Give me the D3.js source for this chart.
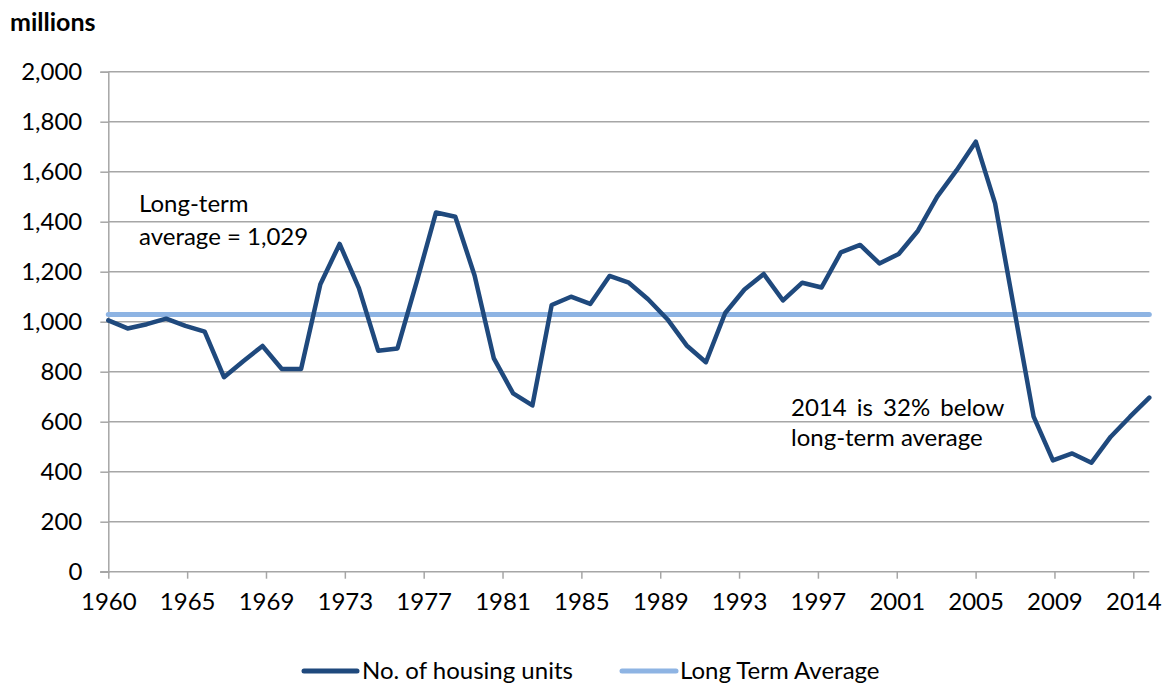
<!DOCTYPE html>
<html>
<head>
<meta charset="utf-8">
<script src="https://cdn.jsdelivr.net/npm/d3@7"></script>
<style>
  html, body { margin: 0; padding: 0; background: #fff; }
  svg { display: block; }
  text { font-family: Lato, "Open Sans", sans-serif; fill: #000; }
</style>
</head>
<body>
<svg id="chart" width="1168" height="684"></svg>
<script>
// ---- data ----
const years = d3.range(1960, 2015);
const housingUnits = [
  1005, 973, 990, 1012, 983, 960, 778, 842, 903, 811,
  811, 1150, 1311, 1134, 884, 893, 1160, 1437, 1420, 1185,
  853, 713, 665, 1067, 1100, 1071, 1183, 1156, 1090, 1010,
  905, 838, 1035, 1129, 1191, 1085, 1156, 1137, 1277, 1307,
  1233, 1271, 1364, 1500, 1605, 1720, 1473, 1046, 620, 445,
  473, 436, 540, 620, 696
];
const longTermAverage = 1029;
const xTickLabels = ["1960","1965","1969","1973","1977","1981","1985","1989","1993","1997","2001","2005","2009","2014"];
const yTickValues = [0,200,400,600,800,1000,1200,1400,1600,1800,2000];
const seriesNames = ["No. of housing units", "Long Term Average"];

// ---- layout ----
const svg = d3.select("#chart");
const plotLeft = 108.3, plotRight = 1149.3, plotTop = 71.7, plotBottom = 571.7;
const TICK_STEP = 4.09; // spacing of category-axis ticks in year units
const darkBlue = "#1F497D", lightBlue = "#8EB4E3", gridGray = "#A6A6A6";
const FS = 24;

const x = d3.scaleLinear().domain([1960, 2014]).range([plotLeft, plotRight]);
const y = d3.scaleLinear().domain([0, 2000]).range([plotBottom, plotTop]);

// gridlines
svg.append("g").selectAll("line").data(yTickValues.filter(v => v > 0)).join("line")
  .attr("x1", plotLeft).attr("x2", plotRight)
  .attr("y1", d => y(d)).attr("y2", d => y(d))
  .attr("stroke", gridGray).attr("stroke-width", 1.5);

// y axis
const yAxis = d3.axisLeft(y).tickValues(yTickValues).tickSize(8).tickPadding(18)
  .tickFormat(d3.format(","));
const gy = svg.append("g").attr("transform", `translate(${plotLeft},0)`).call(yAxis);
gy.select(".domain").attr("stroke", gridGray).attr("stroke-width", 1.5);
gy.selectAll(".tick line").attr("stroke", gridGray).attr("stroke-width", 1.5);
gy.selectAll(".tick text").attr("font-size", FS).attr("font-family", "Lato").attr("fill", "#000");

// x axis
const tickPos = xTickLabels.map((d, i) => 1960 + i * TICK_STEP);
const xAxis = d3.axisBottom(x).tickValues(tickPos).tickSize(7).tickPadding(14)
  .tickFormat((d, i) => xTickLabels[i]);
const gx = svg.append("g").attr("transform", `translate(0,${plotBottom})`).call(xAxis);
gx.select(".domain").attr("stroke", gridGray).attr("stroke-width", 1.5)
  .attr("d", `M${plotLeft - 8},0H${plotRight}`);
gx.selectAll(".tick line").attr("stroke", gridGray).attr("stroke-width", 1.5);
gx.selectAll(".tick text").attr("font-size", FS).attr("font-family", "Lato").attr("fill", "#000");

// long-term average line
svg.append("line")
  .attr("x1", x(years[0])).attr("x2", x(years[years.length - 1]))
  .attr("y1", y(longTermAverage)).attr("y2", y(longTermAverage))
  .attr("stroke", lightBlue).attr("stroke-width", 5).attr("stroke-linecap", "round");

// housing units line
const line = d3.line().x((d, i) => x(years[i])).y(d => y(d));
svg.append("path").datum(housingUnits)
  .attr("d", line).attr("fill", "none")
  .attr("stroke", darkBlue).attr("stroke-width", 4.5)
  .attr("stroke-linejoin", "round").attr("stroke-linecap", "round");

// title / unit
svg.append("text").attr("x", 10).attr("y", 31).attr("font-size", 25)
  .attr("font-weight", "bold").text("millions");

// annotations
const a1 = svg.append("text").attr("font-size", FS);
a1.append("tspan").attr("x", 139).attr("y", 212).text("Long-term");
a1.append("tspan").attr("x", 139).attr("y", 245).text("average = " + d3.format(",")(longTermAverage));

const a2 = svg.append("text").attr("font-size", FS);
a2.append("tspan").attr("x", 791).attr("y", 416).attr("word-spacing", 4).text("2014 is 32% below");
a2.append("tspan").attr("x", 791).attr("y", 446).text("long-term average");

// legend
const legY = 671;
const legend = [
  { name: seriesNames[0], color: darkBlue, x1: 304, x2: 357, tx: 362 },
  { name: seriesNames[1], color: lightBlue, x1: 622, x2: 676, tx: 680 }
];
const lg = svg.append("g");
lg.selectAll("line").data(legend).join("line")
  .attr("x1", d => d.x1).attr("x2", d => d.x2).attr("y1", legY).attr("y2", legY)
  .attr("stroke", d => d.color).attr("stroke-width", 5).attr("stroke-linecap", "round");
lg.selectAll("text").data(legend).join("text")
  .attr("x", d => d.tx).attr("y", legY + 8).attr("font-size", FS).text(d => d.name);
</script>
</body>
</html>
